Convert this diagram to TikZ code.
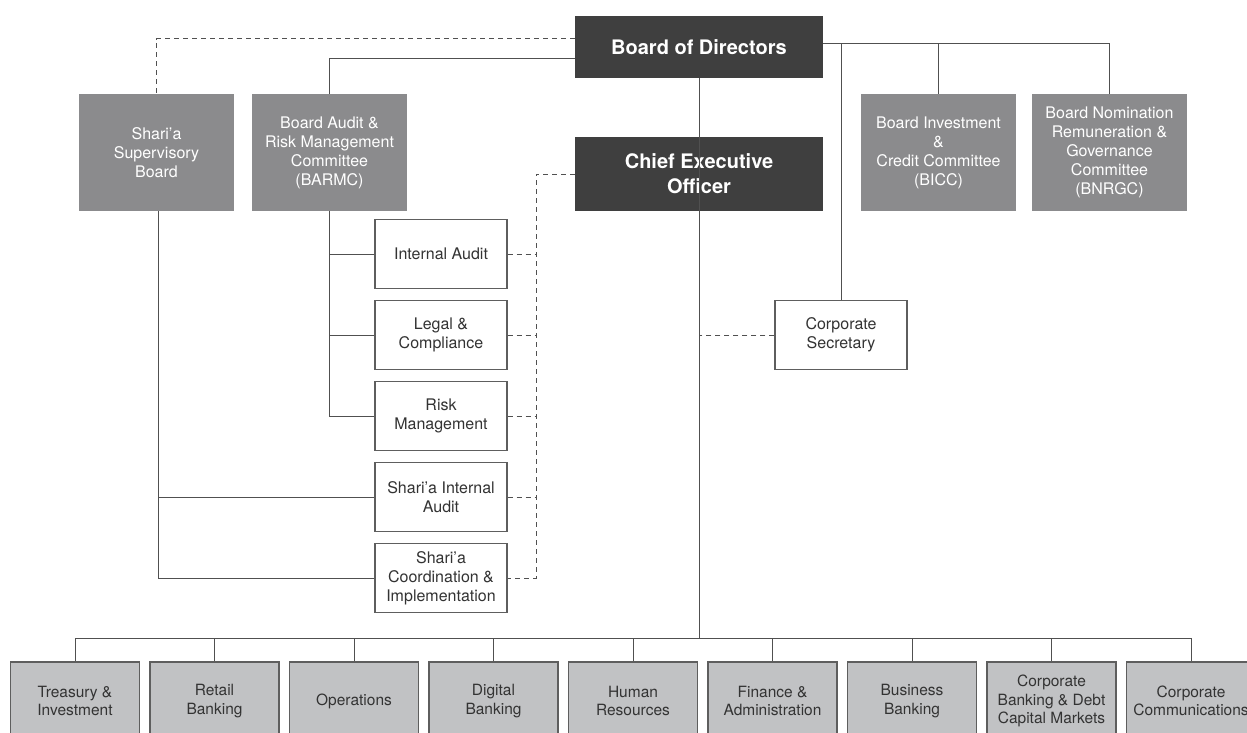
\documentclass[tikz,border=0pt]{standalone}
\usepackage{fontspec}
\setmainfont{TeX Gyre Heros}
\definecolor{darkbox}{HTML}{3F3F3F}
\definecolor{commgray}{HTML}{8B8B8D}
\definecolor{botgray}{HTML}{C1C2C4}
\definecolor{boxline}{HTML}{5E5E5E}
\definecolor{linecol}{HTML}{505050}
\definecolor{txt}{HTML}{333333}
\begin{document}
\begin{tikzpicture}[x=1pt,y=-1pt,
  darkb/.style={fill=darkbox, draw=none, text=white, inner sep=0pt, align=center,
    font=\bfseries\fontsize{20}{25}\selectfont, minimum width=248pt},
  comm/.style={fill=commgray, draw=none, text=white, inner sep=0pt, align=center,
    font=\fontsize{16}{19}\selectfont, minimum width=155pt, minimum height=117pt},
  wbox/.style={fill=white, draw=boxline, line width=1.1pt, text=txt, inner sep=0pt, align=center,
    font=\fontsize{16}{19}\selectfont, minimum width=132pt, minimum height=69pt},
  bbox/.style={fill=botgray, draw=boxline, line width=1.1pt, text=txt, inner sep=0pt, align=center,
    font=\fontsize{15.5}{18.5}\selectfont, minimum width=129pt, minimum height=78pt},
  conn/.style={draw=linecol, line width=1pt},
  dconn/.style={draw=linecol, line width=1pt, dash pattern=on 5pt off 4pt}]
\useasboundingbox (0,0) rectangle (1247,733);
\fill[white] (0,0) rectangle (1247,733);

% top
\node[darkb, minimum height=62pt] (bod) at (699,47) {Board of Directors};
\node[darkb, minimum height=74pt] (ceo) at (699,174) {Chief Executive\\Officer};

\node[comm] (ssb) at (156.5,152.5) {Shari’a\\Supervisory\\Board};
\node[comm] (barmc) at (329.5,152.5) {Board Audit \&\\Risk Management\\Committee\\(BARMC)};
\node[comm] (bicc) at (938.5,152.5) {Board Investment\\\&\\Credit Committee\\(BICC)};
\node[comm] (bnrgc) at (1109.5,152.5) {Board Nomination\\Remuneration \&\\Governance\\Committee\\(BNRGC)};

% middle
\node[wbox] (ia) at (441,254) {Internal Audit};
\node[wbox] (lc) at (441,335) {Legal \&\\Compliance};
\node[wbox] (rm) at (441,416) {Risk\\Management};
\node[wbox] (sia) at (441,497) {Shari’a Internal\\Audit};
\node[wbox] (sci) at (441,578) {Shari’a\\Coordination \&\\Implementation};
\node[wbox] (cs) at (841,335) {Corporate\\Secretary};

% bottom
\node[bbox] (b1) at (75,701) {Treasury \&\\Investment};
\node[bbox] (b2) at (214.5,701) {Retail\\Banking};
\node[bbox] (b3) at (354,701) {Operations};
\node[bbox] (b4) at (493.5,701) {Digital\\Banking};
\node[bbox] (b5) at (633,701) {Human\\Resources};
\node[bbox] (b6) at (772.5,701) {Finance \&\\Administration};
\node[bbox] (b7) at (912,701) {Business\\Banking};
\node[bbox] (b8) at (1051.5,701) {Corporate\\Banking \& Debt\\Capital Markets};
\node[bbox] (b9) at (1191,701) {Corporate\\Communications};

% connectors from board
\draw[dconn] ([yshift=-23pt]bod.north west) -| (ssb.north);
\draw[conn] ([yshift=-43pt]bod.north west) -| (barmc.north);
\coordinate (bline) at ([yshift=-28pt]bod.north east);
\draw[conn] (bline) -| (bnrgc.north);
\draw[conn] (bicc.north |- bline) -- (bicc.north);
\draw[conn] (cs.north |- bline) -- (cs.north);
\draw[conn] (bod.south) -- (ceo.south);

% BARMC branches
\draw[conn] (barmc.south) |- (rm.west);
\draw[conn] (barmc.south |- ia.west) -- (ia.west);
\draw[conn] (barmc.south |- lc.west) -- (lc.west);

% Shari'a board branches
\draw[conn] ([xshift=1.5pt]ssb.south) |- (sci.west);
\draw[conn] ([xshift=1.5pt]ssb.south |- sia.west) -- (sia.west);

% CEO dashed links
\coordinate (dtop) at (536,174);
\draw[dconn] (ceo.west) -- (dtop) |- (sci.east);
\foreach \n in {ia,lc,rm,sia}{
  \draw[dconn] (\n.east) -- (dtop |- \n.east);
}
\draw[dconn] (cs.west) -- (ceo.south |- cs.west);

% bus to bottom
\coordinate (bus) at (699,638);
\draw[conn] (ceo.south) -- (bus);
\draw[conn] (b1.north |- bus) -- (b9.north |- bus);
\foreach \n in {b1,b2,b3,b4,b5,b6,b7,b8,b9}{
  \draw[conn] (\n.north |- bus) -- (\n.north);
}
\end{tikzpicture}
\end{document}
